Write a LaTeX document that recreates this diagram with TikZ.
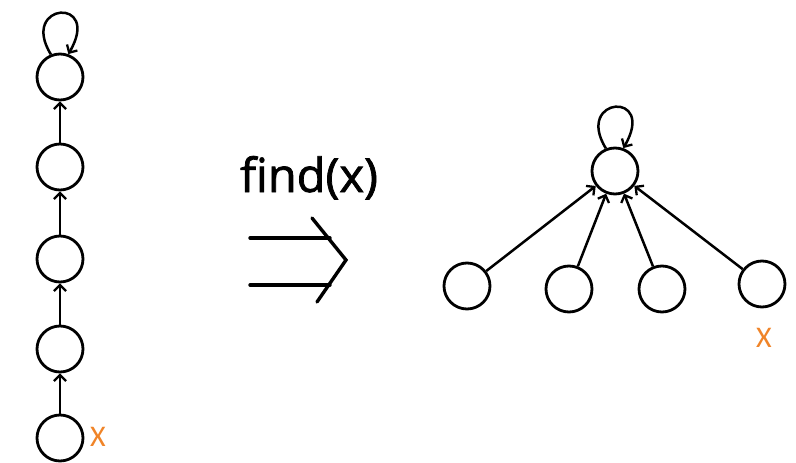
\documentclass[tikz,border=0pt]{standalone}
\usepackage{fontspec}
\setmainfont{Carlito}
\newfontfamily\labelfont[Ligatures={NoCommon}, FakeBold=1.6]{Open Sans}
\usetikzlibrary{arrows.meta}
\definecolor{markorange}{RGB}{240,132,40}
\tikzset{
  vertex/.style={circle, draw, line width=2.8pt, minimum size=46pt, inner sep=0pt},
  link/.style={line width=2.5pt, -{Straight Barb[length=6pt,width=12pt,line width=2.3pt]}},
  selfloop/.style={line width=2.5pt, -{Straight Barb[length=6pt,width=12pt,line width=2.3pt]}},
  marklabel/.style={text=markorange, font=\fontsize{30}{30}\selectfont, inner sep=0pt},
  implies/.style={line width=3.4pt, line cap=round}
}
\begin{document}
\begin{tikzpicture}[x=1pt, y=-1pt]
\useasboundingbox (0,0) rectangle (796,463);

% chain before path compression
\node[vertex] (c1) at (60,77) {};
\node[vertex] (c2) at (60,167) {};
\node[vertex] (c3) at (60,259) {};
\node[vertex] (c4) at (60,349) {};
\node[vertex] (c5) at (60,438) {};
\draw[link] (c2) -- (c1);
\draw[link] (c3) -- (c2);
\draw[link] (c4) -- (c3);
\draw[link] (c5) -- (c4);
\draw[selfloop] (c1.112) .. controls +(-32,-52) and +(34,-58) .. (c1.70);
\node[marklabel] (xa) at (98,437) {X};

% find(x) and the implication arrow
\node[font=\labelfont\fontsize{47}{47}\selectfont, anchor=base, inner sep=0pt] (find) at (309,192) {find(x)};
\coordinate (i1) at (250,238);
\coordinate (i2) at (330,238);
\coordinate (j1) at (250,285);
\coordinate (j2) at (330,285);
\coordinate (k1) at (312,218);
\coordinate (k2) at (346,260);
\coordinate (k3) at (317,302);
\draw[implies] (i1) -- (i2);
\draw[implies] (j1) -- (j2);
\draw[implies] (k1) -- (k2) -- (k3);

% tree after path compression
\node[vertex] (r) at (615,171) {};
\node[vertex] (l1) at (467,286) {};
\node[vertex] (l2) at (569,289) {};
\node[vertex] (l3) at (662,289) {};
\node[vertex] (l4) at (762,284) {};
\draw[link] (l1) -- (r);
\draw[link] (l2) -- (r);
\draw[link] (l3) -- (r);
\draw[link] (l4) -- (r);
\draw[selfloop] (r.112) .. controls +(-32,-52) and +(34,-58) .. (r.70);
\node[marklabel] (xb) at (764,338) {X};
\end{tikzpicture}
\end{document}
